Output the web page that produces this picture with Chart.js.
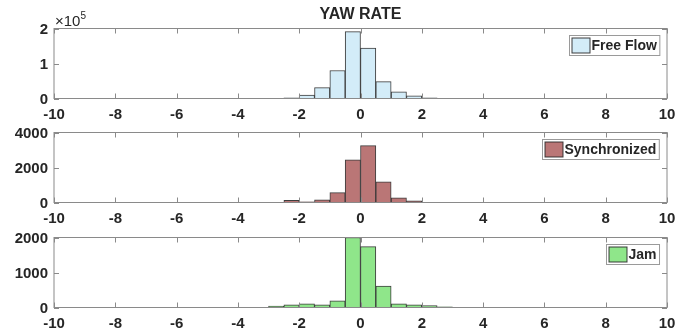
<!DOCTYPE html>
<html>
<head>
<meta charset="utf-8">
<script src="https://cdn.jsdelivr.net/npm/chart.js@4.4.1/dist/chart.umd.min.js"></script>
<style>
  html, body { margin:0; padding:0; background:#fff; }
  #wrap { position:relative; width:676px; height:334px; overflow:hidden; }
  canvas { position:absolute; left:0; }
  .title { position:absolute; left:0; width:721px; top:5px; text-align:center;
           font: bold 16px "Liberation Sans", Arial, sans-serif; color:#262626; }
  .exp { position:absolute; left:55px; top:9px; font: 15px "Liberation Sans", Arial, sans-serif; color:#262626; line-height:16px; }
  .exp sup { font-size:10px; position:relative; top:-1px; }
</style>
</head>
<body>
<div id="wrap">
  <canvas id="c1" width="676" height="125"></canvas>
  <canvas id="c2" width="676" height="125"></canvas>
  <canvas id="c3" width="676" height="125"></canvas>
  <div class="title">YAW RATE</div>
  <div class="exp">&times;10<sup>5</sup></div>
</div>
<script>
// ---- data (bin width 0.5, bin centers) ----
const freeFlowCenters = [-2.25, -1.75, -1.25, -0.75, -0.25, 0.25, 0.75, 1.25, 1.75, 2.25];
const freeFlowCounts  = [2000, 9500, 31000, 80000, 191000, 144000, 48000, 18800, 7500, 2000];

const syncCenters = [-2.25, -1.75, -1.25, -0.75, -0.25, 0.25, 0.75, 1.25, 1.75];
const syncCounts  = [130, 40, 150, 560, 2440, 3250, 1180, 260, 90];

const jamCenters = [-2.75, -2.25, -1.75, -1.25, -0.75, -0.25, 0.25, 0.75, 1.25, 1.75, 2.25, 2.75];
const jamCounts  = [38, 76, 105, 76, 190, 2000, 1740, 610, 105, 76, 57, 20];

const xTicksMin = -10, xTicksMax = 10, xTickStep = 2;
const labels = ["Free Flow", "Synchronized", "Jam"];

const FONT = '"Liberation Sans", Arial, sans-serif';
const AXIS = '#8a8a8a';
const TEXT = '#262626';
const EDGE = 'rgba(40,40,40,0.9)';

const framePlugin = {
  id: 'frame',
  afterDraw(chart, args, opts) {
    const { ctx, chartArea: a, scales: { x, y } } = chart;
    const TL = 5;
    ctx.save();
    ctx.strokeStyle = AXIS;
    ctx.lineWidth = 1;
    ctx.beginPath();
    x.ticks.forEach(t => {
      const px = Math.round(x.getPixelForValue(t.value)) + 0.5;
      ctx.moveTo(px, a.bottom); ctx.lineTo(px, a.bottom - TL);
      ctx.moveTo(px, a.top); ctx.lineTo(px, a.top + TL);
    });
    y.ticks.forEach(t => {
      const py = Math.round(y.getPixelForValue(t.value)) + 0.5;
      ctx.moveTo(a.left, py); ctx.lineTo(a.left + TL, py);
      ctx.moveTo(a.right, py); ctx.lineTo(a.right - TL, py);
    });
    ctx.stroke();
    ctx.strokeRect(a.left, a.top, a.right - a.left, a.bottom - a.top);

    // legend
    ctx.font = 'bold 14px ' + FONT;
    const text = opts.text;
    const tw = ctx.measureText(text).width;
    const sw = 18, bh = 20;
    const bw = 3 + sw + 1 + tw + 3;
    const bx = Math.round(a.right - 8 - bw) + 0.5;
    const by = Math.round(a.top + 6.5) + 0.5;
    ctx.fillStyle = '#fff';
    ctx.fillRect(bx, by, bw, bh);
    ctx.strokeStyle = '#9a9a9a';
    ctx.strokeRect(bx, by, bw, bh);
    ctx.fillStyle = opts.color;
    ctx.fillRect(bx + 2.5, by + 2.5, sw, bh - 5);
    ctx.strokeStyle = EDGE;
    ctx.strokeRect(bx + 2.5, by + 2.5, sw, bh - 5);
    ctx.fillStyle = TEXT;
    ctx.textBaseline = 'middle';
    ctx.fillText(text, bx + 3 + sw + 1, by + bh / 2 + 1);
    ctx.restore();
  }
};

function makeChart(id, canvasTop, areaTop, areaBottom, centers, counts, color, yMax, yStep, yFmt, legendText) {
  const cv = document.getElementById(id);
  cv.style.top = canvasTop + 'px';
  const H = 125;
  const data = centers.map((c, i) => ({ x: c, y: counts[i] }));
  return new Chart(cv, {
    type: 'bar',
    data: {
      datasets: [{
        data,
        backgroundColor: color,
        borderColor: EDGE,
        borderWidth: 1,
        borderSkipped: 'start',
        barPercentage: 1,
        categoryPercentage: 1
      }]
    },
    options: {
      responsive: false,
      animation: false,
      events: [],
      layout: { padding: { top: areaTop - canvasTop, right: 9, left: 0, bottom: 0 } },
      plugins: { legend: { display: false }, tooltip: { enabled: false },
                 frame: { text: legendText, color } },
      scales: {
        x: {
          type: 'linear', min: xTicksMin, max: xTicksMax, offset: false,
          grid: { display: false, drawTicks: false, offset: false },
          border: { display: false },
          ticks: { stepSize: xTickStep, padding: 7, color: TEXT, maxRotation: 0,
                   font: { family: FONT, size: 15, weight: 'bold' } },
          afterFit(s) { s.height = canvasTop + H - areaBottom; s.paddingLeft = 0; s.paddingRight = 0; }
        },
        y: {
          min: 0, max: yMax,
          grid: { display: false, drawTicks: false },
          border: { display: false },
          ticks: { stepSize: yStep, padding: 6, color: TEXT, labelOffset: 1.5,
                   font: { family: FONT, size: 15, weight: 'bold' },
                   callback: yFmt },
          afterFit(s) { s.width = 54; s.paddingTop = 0; s.paddingBottom = 0; }
        }
      }
    },
    plugins: [framePlugin]
  });
}

makeChart('c1', 0, 28.5, 98.5, freeFlowCenters, freeFlowCounts, '#d3ecf8', 200000, 100000, v => String(v / 100000), labels[0]);
makeChart('c2', 104, 132.5, 202.5, syncCenters, syncCounts, '#ba7676', 4000, 2000, v => String(v), labels[1]);
makeChart('c3', 209, 237.5, 307.5, jamCenters, jamCounts, '#8fe68a', 2000, 1000, v => String(v), labels[2]);
</script>
</body>
</html>
